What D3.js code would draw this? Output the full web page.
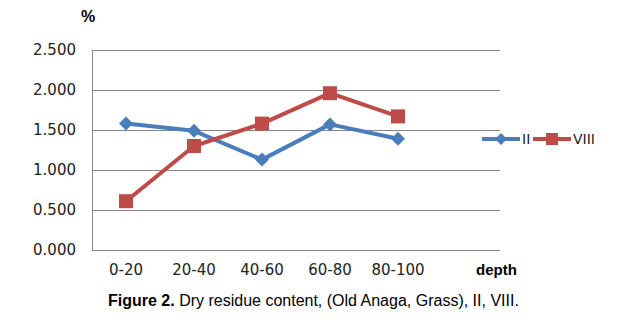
<!DOCTYPE html>
<html><head><meta charset="utf-8">
<script src="https://cdn.jsdelivr.net/npm/d3@7"></script>
<style>body{margin:0;background:#fff}svg{display:block}</style>
</head><body>
<svg id="c" width="627" height="331"></svg>
<script>
const categories = ["0-20","20-40","40-60","60-80","80-100",""];
const seriesII = [1.58, 1.49, 1.13, 1.57, 1.39];
const seriesVIII = [0.61, 1.30, 1.58, 1.96, 1.67];
const yTicks = [0, 0.5, 1.0, 1.5, 2.0, 2.5];
const seriesNames = ["II","VIII"];

const svg = d3.select("#c");
const L = 92, R = 500, T = 50, B = 250;
const x = d3.scaleBand().domain(categories).range([L, R]);
const y = d3.scaleLinear().domain([0, 2.5]).range([B, T]);
const fmt = d => d.toFixed(3);

// gridlines
svg.append("g").selectAll("line").data(yTicks).join("line")
  .attr("x1", L).attr("x2", R).attr("y1", d => y(d)+0.5).attr("y2", d => y(d)+0.5)
  .attr("stroke", "#868686").attr("stroke-width", 1);
// y axis line
svg.append("line").attr("x1", L+0.5).attr("x2", L+0.5).attr("y1", T).attr("y2", B+0.5)
  .attr("stroke", "#868686");

// y labels
const yAxis = d3.axisLeft(y).tickValues(yTicks).tickFormat(fmt).tickSize(0).tickPadding(16);
const ga = svg.append("g").attr("transform", `translate(${L},0)`).call(yAxis);
ga.select(".domain").remove();
ga.selectAll("text").attr("font-family","DejaVu Sans").attr("font-size",15).attr("fill","#222");

// x labels
const xAxis = d3.axisBottom(x).tickSize(0).tickPadding(14);
const gx = svg.append("g").attr("transform", `translate(0,${B})`).call(xAxis);
gx.select(".domain").remove();
gx.selectAll("text").attr("font-family","DejaVu Sans").attr("font-size",15).attr("fill","#222");

const cx = i => x(categories[i]) + x.bandwidth()/2;
const line = d3.line().x((d,i) => cx(i)).y(d => y(d));
const blue = "#4A7EBB", red = "#BE4B48";

svg.append("path").datum(seriesII).attr("d", line).attr("fill","none")
  .attr("stroke", blue).attr("stroke-width", 4).attr("stroke-linejoin","round");
svg.append("path").datum(seriesVIII).attr("d", line).attr("fill","none")
  .attr("stroke", red).attr("stroke-width", 4).attr("stroke-linejoin","round");

const diamond = (px, py, s) => `M${px},${py-s}L${px+s},${py}L${px},${py+s}L${px-s},${py}Z`;
svg.append("g").selectAll("path").data(seriesII).join("path")
  .attr("d", (d,i) => diamond(cx(i), y(d), 7)).attr("fill", blue);
svg.append("g").selectAll("rect").data(seriesVIII).join("rect")
  .attr("x", (d,i) => cx(i)-7).attr("y", d => y(d)-7).attr("width",14).attr("height",14).attr("fill", red);

// legend
const ly = 139;
svg.append("line").attr("x1",482).attr("x2",520).attr("y1",ly).attr("y2",ly).attr("stroke",blue).attr("stroke-width",4);
svg.append("path").attr("d", diamond(501, ly, 6)).attr("fill", blue);
svg.append("text").attr("x",522).attr("y",ly+5).text(seriesNames[0])
  .attr("font-family","DejaVu Sans").attr("font-size",14).attr("fill","#222");
svg.append("line").attr("x1",533).attr("x2",571).attr("y1",ly).attr("y2",ly).attr("stroke",red).attr("stroke-width",4);
svg.append("rect").attr("x",546).attr("y",ly-6).attr("width",12).attr("height",12).attr("fill",red);
svg.append("text").attr("x",573).attr("y",ly+5).text(seriesNames[1])
  .attr("font-family","DejaVu Sans").attr("font-size",14).attr("fill","#222");

// axis titles
svg.append("text").attr("x",81).attr("y",22).text("%")
  .attr("font-family","Liberation Sans").attr("font-weight","bold").attr("font-size",16).attr("fill","#000");
svg.append("text").attr("x",476).attr("y",275).text("depth")
  .attr("font-family","Liberation Sans").attr("font-weight","bold").attr("font-size",15).attr("fill","#000");

// caption
const cap = svg.append("text").attr("x",108).attr("y",306)
  .attr("font-family","Liberation Sans").attr("font-size",16).attr("fill","#000");
cap.append("tspan").attr("font-weight","bold").text("Figure 2.");
cap.append("tspan").text(" Dry residue content, (Old Anaga, Grass), II, VIII.");
</script>
</body></html>
